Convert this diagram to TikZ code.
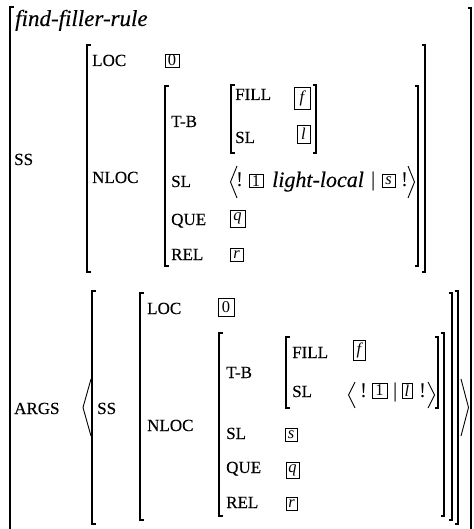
\documentclass[tikz,border=0pt]{standalone}
\usepackage{fontspec}
\setmainfont{Liberation Serif}
\newcommand\lbrk[3]{\draw[brk] (#1+3.5,#2) -- (#1,#2) -- (#1,#3) -- (#1+3.5,#3);}
\newcommand\rbrk[3]{\draw[brk] (#1-3.5,#2) -- (#1,#2) -- (#1,#3) -- (#1-3.5,#3);}
\begin{document}
\begin{tikzpicture}[x=1pt,y=-1pt,
  brk/.style={line width=1.2pt},
  ang/.style={line width=0.9pt, line join=miter},
  lab/.style={anchor=base west, inner sep=0pt, font=\fontsize{17}{20}\selectfont\addfontfeature{FakeBold=0.3}},
  itx/.style={anchor=base west, inner sep=0pt, font=\fontsize{23}{26}\selectfont\itshape\addfontfeature{FakeBold=0.2}},
  itv/.style={anchor=base west, inner sep=0pt, font=\fontsize{22}{26}\selectfont\itshape\addfontfeature{FakeBold=0.2}},
  rm/.style={anchor=base west, inner sep=0pt, font=\fontsize{21}{24}\selectfont},
  bx/.style={draw, line width=0.6pt, inner sep=0pt, font=\fontsize{16.5}{18}\selectfont},
]
\useasboundingbox (0,0) rectangle (473,529);
% ---- outer brackets
\draw[brk] (13.5,7) -- (10,7) -- (10,529);
\draw[brk] (467.5,8) -- (471,8) -- (471,529);
\node[itx] (title) at (15,26) {find-filler-rule};
% ---- top SS
\node[lab] (ss1) at (14,165) {SS};
\lbrk{87}{45}{272}
\rbrk{425}{45}{272}
\node[lab] (loc1) at (92,66) {LOC};
\node[bx, minimum width=14pt, minimum height=13pt] (v0a) at (172,60.5) {0};
\node[lab] (nloc1) at (92,183) {NLOC};
\lbrk{165}{86}{266}
\rbrk{418}{86}{266}
\node[lab] (tb1) at (171,127) {T-B};
\lbrk{231}{85}{153}
\rbrk{316}{85}{153}
\node[lab] (fill1) at (235,100) {FILL};
\node[bx, minimum width=16pt, minimum height=22pt] (f1) at (302,98.5) {\itshape f};
\node[lab] (sl1) at (235,143) {SL};
\node[bx, minimum width=13pt, minimum height=18pt] (l1) at (303.5,134) {\itshape l};
\node[lab] (sl2) at (171,187) {SL};
\draw[ang] (237,166) -- (230.5,182) -- (237,198);
\node[rm] (ex1) at (236,187) {!};
\node[bx, minimum width=14pt, minimum height=13pt] (one1) at (256,181) {1};
\node[itv] (ll) at (272,187) {light-local};
\node[rm] (bar1) at (371,187) {|};
\node[bx, minimum width=13pt, minimum height=13pt] (s1) at (388.5,181) {\itshape s};
\node[rm] (ex2) at (401,187) {!};
\draw[ang] (408,166) -- (414.5,182) -- (408,198);
\node[lab] (que1) at (171,225) {QUE};
\node[bx, minimum width=15pt, minimum height=17pt] (q1) at (237.5,218.5) {\itshape q};
\node[lab] (rel1) at (171,260) {REL};
\node[bx, minimum width=13pt, minimum height=13pt] (r1) at (236.5,254.5) {\itshape r};
% ---- ARGS
\node[lab] (args) at (14,414) {ARGS};
\draw[ang] (91,379) -- (83,407.5) -- (91,436);
\draw[ang] (461,379) -- (468.5,407.5) -- (461,436);
\lbrk{92}{291}{524}
\rbrk{458}{291}{524}
\node[lab] (ss2) at (97,414) {SS};
\lbrk{140}{293}{520}
\rbrk{452}{293}{520}
\node[lab] (loc2) at (147,314) {LOC};
\node[bx, minimum width=16pt, minimum height=18pt] (v0b) at (226,307) {0};
\node[lab] (nloc2) at (147,431) {NLOC};
\lbrk{219}{333}{516}
\rbrk{444}{333}{516}
\node[lab] (tb2) at (226,378) {T-B};
\lbrk{286}{337}{408}
\rbrk{438}{337}{408}
\node[lab] (fill2) at (292,358) {FILL};
\node[bx, minimum width=12pt, minimum height=20pt] (f2) at (359,350) {\itshape f};
\node[lab] (sl3) at (292,397) {SL};
\draw[ang] (355,382) -- (348.5,395) -- (355,408);
\node[rm] (ex3) at (360,397) {!};
\node[bx, minimum width=15pt, minimum height=15pt] (one2) at (379.5,390.5) {1};
\node[rm] (bar2) at (393,397) {|};
\node[bx, minimum width=10pt, minimum height=15pt] (l2) at (407,390.5) {\itshape l};
\node[rm] (ex4) at (419,397) {!};
\draw[ang] (428,382) -- (434.5,395) -- (428,408);
\node[lab] (sl4) at (226,439) {SL};
\node[bx, minimum width=12pt, minimum height=13pt] (s2) at (291,434.5) {\itshape s};
\node[lab] (que2) at (226,473) {QUE};
\node[bx, minimum width=13pt, minimum height=16pt] (q2) at (292.5,470) {\itshape q};
\node[lab] (rel2) at (226,508) {REL};
\node[bx, minimum width=11pt, minimum height=13pt] (r2) at (291.5,503.5) {\itshape r};
\end{tikzpicture}
\end{document}
